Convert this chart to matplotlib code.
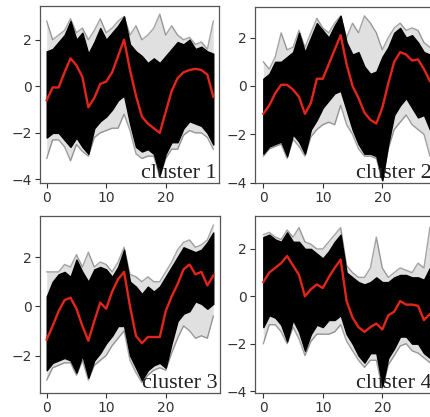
import numpy as np
import matplotlib
matplotlib.use("Agg")
import matplotlib.pyplot as plt
from matplotlib.transforms import offset_copy

x = list(range(29))
labels = ["cluster 1", "cluster 2", "cluster 3", "cluster 4"]

mean1 = [-0.6, -0.05, -0.05, 0.6, 1.2, 0.9, 0.4, -0.9, -0.5, 0.1, 0.2, 0.6, 1.3, 2.0, 0.7, -0.4, -1.3, -1.6, -1.8, -2.0, -1.1, -0.2, 0.35, 0.6, 0.7, 0.75, 0.7, 0.5, -0.45]
up1 = [1.5, 1.6, 1.9, 2.2, 2.8, 2.0, 2.3, 1.4, 1.9, 2.5, 2.0, 2.3, 2.6, 3.0, 1.8, 1.5, 1.3, 1.0, 1.2, 1.0, 1.3, 1.6, 1.9, 1.8, 2.0, 1.6, 1.7, 1.5, 1.4]
lo1 = [-2.2, -2.0, -2.0, -2.3, -2.6, -2.2, -2.6, -2.9, -1.8, -1.5, -1.3, -1.0, -0.6, -0.4, -1.6, -2.6, -2.8, -2.7, -2.9, -3.8, -2.9, -2.4, -2.4, -1.8, -1.5, -1.6, -1.7, -2.0, -2.5]
oup1 = [2.8, 2.0, 2.2, 2.4, 2.9, 2.3, 2.5, 2.0, 2.4, 2.9, 2.3, 2.5, 2.8, 3.0, 2.2, 2.6, 2.0, 2.2, 2.5, 3.1, 2.2, 2.6, 2.2, 2.0, 2.1, 1.8, 1.9, 1.6, 2.8]
olo1 = [-3.1, -2.3, -2.3, -2.6, -3.2, -2.5, -2.8, -3.0, -2.2, -2.0, -1.9, -1.8, -1.8, -1.2, -1.9, -2.9, -3.1, -3.0, -3.0, -3.9, -3.1, -2.7, -2.7, -2.1, -1.9, -2.0, -2.0, -2.2, -2.7]

mean2 = [-1.15, -0.8, -0.3, 0.05, 0.05, -0.15, -0.45, -1.15, -0.7, 0.3, 0.3, 0.9, 1.5, 2.1, 0.9, 0.0, -0.5, -1.1, -1.4, -1.55, -0.9, 0.1, 1.0, 1.4, 1.3, 1.05, 1.1, 0.7, 0.2]
up2 = [0.3, 0.5, 1.0, 1.0, 1.2, 1.4, 2.2, 1.4, 2.0, 2.6, 2.3, 2.0, 2.5, 2.9, 1.8, 1.3, 1.4, 0.8, 0.5, 0.6, 1.2, 1.6, 2.2, 2.4, 2.0, 2.1, 1.8, 1.4, 1.3]
lo2 = [-2.8, -2.5, -2.4, -2.3, -2.9, -2.0, -2.3, -2.8, -1.8, -1.4, -0.9, -0.6, -0.3, -0.2, -1.0, -1.8, -2.4, -2.8, -2.8, -2.9, -3.9, -2.4, -1.2, -0.8, -0.5, -0.9, -1.3, -1.2, -1.8]
oup2 = [1.0, 0.7, 1.2, 2.2, 1.5, 1.6, 2.3, 1.6, 2.2, 2.8, 2.4, 2.2, 2.6, 2.9, 2.0, 2.6, 2.2, 2.9, 2.6, 2.2, 1.5, 2.0, 2.4, 2.6, 2.3, 2.4, 2.3, 1.8, 1.6]
olo2 = [-2.9, -2.6, -2.5, -2.4, -3.0, -2.2, -2.5, -2.9, -2.1, -1.8, -1.6, -1.5, -1.6, -0.8, -1.6, -2.0, -2.6, -2.9, -2.9, -3.0, -3.9, -2.6, -1.8, -1.5, -1.2, -1.6, -1.8, -2.0, -2.9]

mean3 = [-1.35, -0.8, -0.2, 0.25, 0.35, -0.1, -0.8, -1.4, -0.6, 0.15, -0.1, 0.6, 1.1, 1.4, 0.0, -1.2, -1.5, -1.25, -1.25, -1.25, -0.2, 0.4, 0.9, 1.5, 1.7, 1.3, 1.4, 0.85, 1.25]
up3 = [0.4, 1.0, 1.3, 1.4, 1.2, 1.9, 1.4, 1.0, 1.5, 1.6, 1.5, 1.2, 1.6, 2.3, 1.0, 0.8, 0.5, 0.8, 0.6, 0.8, 1.2, 1.6, 2.0, 2.4, 2.3, 2.2, 2.3, 2.6, 3.0]
lo3 = [-2.6, -2.3, -2.2, -2.1, -2.2, -2.7, -2.0, -2.9, -2.2, -1.9, -1.5, -1.2, -0.8, -0.8, -2.0, -2.5, -3.0, -2.6, -2.4, -2.3, -2.5, -1.5, -0.6, -0.3, -0.2, 0.2, 0.1, -0.1, 0.1]
oup3 = [1.4, 1.4, 1.4, 1.7, 1.6, 2.1, 1.6, 2.2, 1.6, 1.8, 1.7, 1.4, 1.8, 2.4, 1.3, 1.2, 1.0, 1.2, 1.0, 1.0, 1.4, 1.8, 2.3, 2.6, 2.7, 2.4, 2.5, 2.7, 3.3]
olo3 = [-3.0, -2.5, -2.4, -2.3, -2.3, -2.8, -2.2, -3.0, -2.4, -2.2, -2.0, -1.6, -1.3, -1.0, -2.2, -2.7, -3.1, -2.8, -2.6, -2.5, -2.6, -1.9, -1.3, -0.8, -1.0, -1.3, -1.2, -1.3, -0.4]

mean4 = [0.6, 1.0, 1.2, 1.4, 1.7, 1.3, 0.9, 0.0, 0.3, 0.5, 0.35, 0.8, 1.2, 1.55, -0.2, -0.9, -1.3, -1.5, -1.3, -1.15, -1.4, -0.8, -0.65, -0.2, -0.35, -0.35, -0.4, -1.0, -0.75]
up4 = [2.5, 2.6, 2.4, 2.3, 2.7, 2.3, 2.3, 2.0, 2.0, 1.8, 1.6, 1.9, 2.3, 2.6, 1.0, 0.8, 0.6, 0.5, 0.6, 0.8, 0.6, 0.6, 0.8, 0.9, 0.9, 0.8, 0.8, 0.7, 1.2]
lo4 = [-1.3, -0.8, -0.9, -1.2, -1.9, -1.0, -1.5, -2.3, -1.6, -1.2, -1.3, -1.0, -1.0, -0.8, -1.6, -2.0, -2.5, -2.8, -2.4, -2.4, -3.8, -2.6, -2.2, -1.7, -1.7, -2.0, -2.0, -2.4, -2.6]
oup4 = [2.6, 2.7, 2.5, 2.4, 2.8, 2.5, 2.9, 2.3, 2.2, 2.0, 2.0, 2.3, 2.6, 2.9, 1.3, 1.0, 0.8, 0.8, 1.2, 2.5, 1.2, 0.8, 1.0, 1.2, 1.1, 1.0, 1.4, 1.2, 2.9]
olo4 = [-2.0, -1.2, -1.2, -1.5, -2.0, -1.3, -1.8, -2.5, -1.9, -1.6, -1.6, -1.6, -1.5, -1.2, -1.9, -2.3, -2.7, -3.0, -2.7, -2.7, -3.9, -2.9, -2.5, -2.1, -2.0, -2.3, -2.4, -2.6, -2.8]

means = [mean1, mean2, mean3, mean4]
ups = [up1, up2, up3, up4]
los = [lo1, lo2, lo3, lo4]
oups = [oup1, oup2, oup3, oup4]
olos = [olo1, olo2, olo3, olo4]

W, H = 431, 417
# axes boxes in pixels: left, top, right, bottom, x=0 pixel, y=0 pixel, px per y unit
boxes = [
    (40, 6, 219, 183, 46.7, 86.3, 23.3),
    (255, 7, 434, 183, 263.3, 86.0, 24.2),
    (40, 216, 220, 393, 46.7, 306.3, 24.6),
    (255, 216, 434, 393, 263.3, 296.3, 23.7),
]
pxx = 5.95

fig = plt.figure(figsize=(W / 100, H / 100), dpi=100)
for i in range(4):
    l, t, r, b, x0, y0, py = boxes[i]
    ax = fig.add_axes([l / W, 1 - b / H, (r - l) / W, (b - t) / H])
    ax.fill_between(x, olos[i], oups[i], color="#000000", alpha=0.12, lw=0)
    ax.plot(x, oups[i], color="#000000", alpha=0.35, lw=1.0)
    ax.plot(x, olos[i], color="#000000", alpha=0.35, lw=1.0)
    ax.fill_between(x, los[i], ups[i], color="#000000", alpha=1.0, lw=1.0)
    ax.plot(x, means[i], color="#e3261b", lw=1.7)
    ax.set_xlim((l - x0) / pxx, (r - x0) / pxx)
    ax.set_ylim((y0 - b) / py, (y0 - t) / py)
    ax.set_xticks([0, 10, 20])
    if i == 2:
        ax.set_yticks([-2, 0, 2])
    else:
        ax.set_yticks([-4, -2, 0, 2])
    ax.tick_params(labelsize=10, colors="#333333", length=3.5, width=0.8, pad=2.5)
    for s in ax.spines.values():
        s.set_color("#555555")
        s.set_linewidth(0.9)
    tr = offset_copy(ax.transAxes, fig=fig, x=-2.5, y=4.5, units="dots")
    ax.text(1.0, 0.0, labels[i], transform=tr, ha="right", va="baseline",
            fontsize=16, family="Liberation Serif", color="#222222")

fig.savefig("out.png", dpi=100)
